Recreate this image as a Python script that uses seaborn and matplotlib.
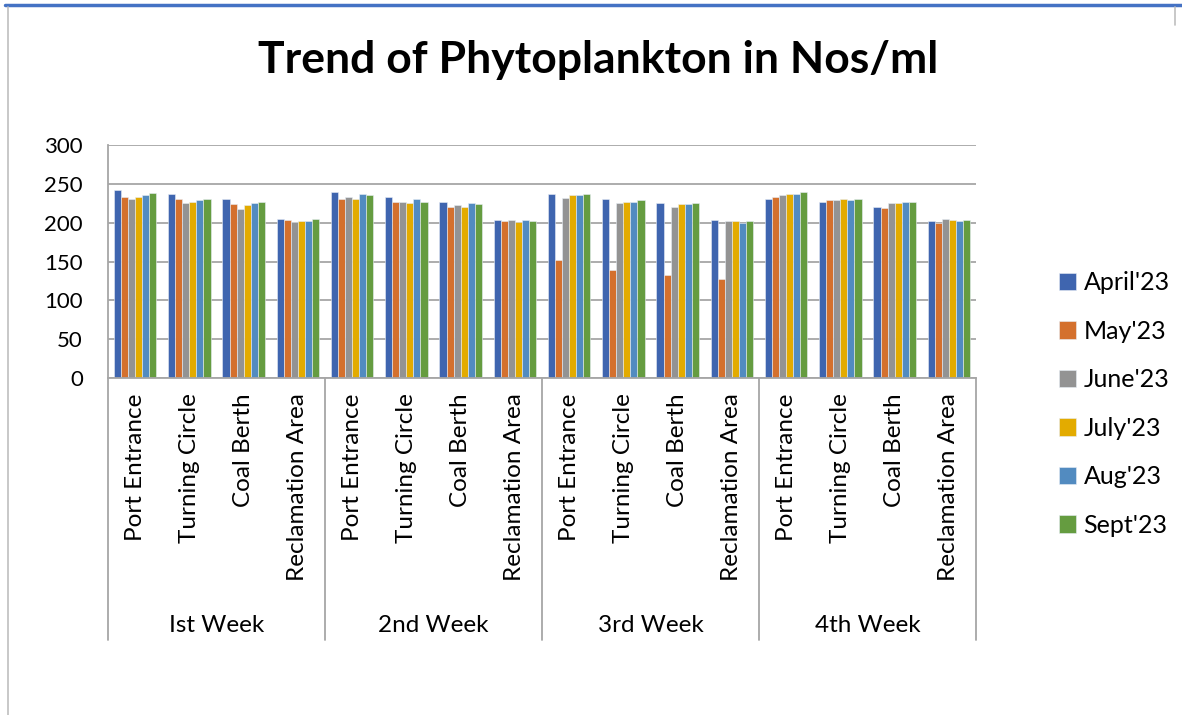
import pandas as pd
import numpy as np
import matplotlib
matplotlib.use('Agg')
import matplotlib.pyplot as plt
import matplotlib.transforms as mtransforms
from matplotlib.lines import Line2D
import seaborn as sns

# Categories
weeks = ['Ist Week', '2nd Week', '3rd Week', '4th Week']
locations = ['Port Entrance', 'Turning Circle', 'Coal Berth', 'Reclamation Area']
months = ["April'23", "May'23", "June'23", "July'23", "Aug'23", "Sept'23"]

# Values per month (Nos/ml), 4 locations x 4 weeks
april = [242, 237, 230, 205, 239, 233, 227, 203, 237, 230, 225, 203, 230, 227, 220, 202]
may = [233, 230, 224, 203, 231, 227, 220, 202, 152, 139, 132, 127, 233, 229, 219, 200]
june = [230, 225, 218, 201, 233, 227, 223, 203, 232, 225, 220, 202, 236, 229, 225, 205]
july = [233, 227, 223, 202, 231, 225, 220, 201, 235, 227, 224, 202, 237, 230, 225, 203]
aug = [236, 229, 225, 202, 237, 230, 225, 203, 235, 227, 224, 200, 237, 229, 226, 202]
sept = [238, 230, 227, 205, 236, 227, 224, 202, 237, 229, 225, 202, 239, 231, 227, 203]

colors = ['#3F65AF', '#D4702D', '#939393', '#E3AB00', '#528BC0', '#659C40']

sns.set_theme(style='white')
plt.rcParams['font.family'] = ['Lato', 'DejaVu Sans']
plt.rcParams['text.color'] = 'black'
plt.rcParams['xtick.color'] = 'black'
plt.rcParams['ytick.color'] = 'black'

# Build long-format table
keys = [f'{w}|{loc}' for w in weeks for loc in locations]
rows = []
for month, vals in zip(months, [april, may, june, july, aug, sept]):
    for key, v in zip(keys, vals):
        rows.append({'site': key, 'month': month, 'value': v})
df = pd.DataFrame(rows)

fig = plt.figure(figsize=(11.82, 7.15), dpi=100)
ax = fig.add_axes([108 / 1182, 1 - 378 / 715, (976 - 108) / 1182, (378 - 145) / 715])

sns.barplot(data=df, x='site', y='value', hue='month', order=keys, hue_order=months,
            palette=colors, saturation=1, width=0.78, edgecolor='#E8EEF6', linewidth=0.4, ax=ax)

grid_col = '#A6A6A6'
ax.set_ylim(0, 300)
ax.set_yticks(range(0, 301, 50))
ax.set_xlim(-0.5, len(keys) - 0.5)
ax.yaxis.grid(True, color=grid_col, linewidth=1.3)
ax.set_axisbelow(True)
for side in ['top', 'right']:
    ax.spines[side].set_visible(False)
for side in ['left', 'bottom']:
    ax.spines[side].set_color(grid_col)
    ax.spines[side].set_linewidth(1.3)

ax.set_xticks(range(len(keys)))
ax.set_xticklabels([k.split('|')[1] for k in keys], rotation=90, fontsize=17.5)
ax.tick_params(axis='x', length=0, pad=11)
ax.tick_params(axis='y', length=0, pad=18, labelsize=16)
ax.set_xlabel('')
ax.set_ylabel('')

# Group separators and week labels
trans = mtransforms.blended_transform_factory(ax.transData, ax.transAxes)
bottom = -(640 - 378) / (378 - 145)
for i in range(len(weeks) + 1):
    xb = i * len(locations) - 0.5
    ax.add_line(Line2D([xb, xb], [0, bottom], transform=trans, color=grid_col,
                       linewidth=1.3, clip_on=False))
for i, w in enumerate(weeks):
    xc = i * len(locations) + (len(locations) - 1) / 2
    ax.text(xc, -(625 - 378) / (378 - 145), w, transform=trans, ha='center', va='center',
            fontsize=17.5)

# Legend
handles, labels = ax.get_legend_handles_labels()
ax.legend(handles, labels, loc='center left', bbox_to_anchor=(1036 / 1182, 1 - 404 / 715),
          bbox_transform=fig.transFigure, frameon=False, fontsize=18,
          handlelength=0.7, handleheight=0.7, handletextpad=0.3, labelspacing=1.02)

fig.text(0.5063, 1 - 60 / 715, 'Trend of Phytoplankton in Nos/ml', ha='center', va='center',
         fontsize=32, fontweight='bold')

# Outer chart border
fig.add_artist(Line2D([5 / 1182, 1], [1 - 5 / 715, 1 - 5 / 715], transform=fig.transFigure,
                      color='#4472C4', linewidth=2.5))
fig.add_artist(Line2D([8 / 1182, 8 / 1182], [0, 1 - 7 / 715], transform=fig.transFigure,
                      color='#BFBFBF', linewidth=1.2))
fig.add_artist(Line2D([1175 / 1182, 1175 / 1182], [1 - 7 / 715, 1 - 25 / 715],
                      transform=fig.transFigure, color='#BFBFBF', linewidth=1.2))

fig.savefig('out.png', dpi=100)
